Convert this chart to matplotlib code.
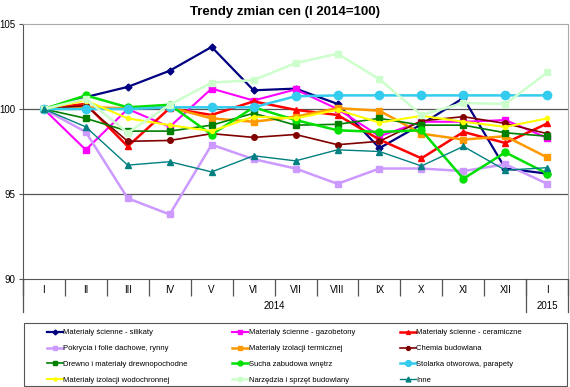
import matplotlib.pyplot as plt
import matplotlib.transforms as mtransforms
from matplotlib.patches import Rectangle

months = ['I', 'II', 'III', 'IV', 'V', 'VI', 'VII', 'VIII', 'IX', 'X', 'XI', 'XII', 'I']

silikaty = [100, 100.7, 101.3, 102.25, 103.65, 101.1, 101.2, 100.3, 97.7, 99.1, 100.65, 96.5, 96.2]
gazobetony = [100, 97.6, 100.0, 98.95, 101.2, 100.5, 101.15, 100.0, 98.4, 99.25, 99.25, 99.35, 98.3]
ceramiczne = [100, 100.3, 97.8, 100.05, 99.65, 100.45, 99.95, 99.65, 98.2, 97.1, 98.65, 98.0, 99.15]
pokrycia = [100, 98.65, 94.75, 93.8, 97.9, 97.05, 96.5, 95.6, 96.5, 96.5, 96.35, 96.75, 95.6]
izol_term = [100, 100.1, 100.05, 100.1, 99.45, 99.25, 99.55, 100.05, 99.9, 98.55, 98.2, 98.4, 97.15]
chemia = [100, 100.2, 98.1, 98.15, 98.55, 98.33, 98.5, 97.9, 98.1, 99.3, 99.55, 99.15, 98.55]
drewno = [100, 99.45, 98.7, 98.7, 99.05, 99.75, 99.05, 99.1, 99.45, 99.05, 99.05, 98.6, 98.4]
sucha = [100, 100.8, 100.1, 100.25, 98.5, 100.1, 99.35, 98.75, 98.65, 98.75, 95.9, 97.45, 96.2]
stolarka = [100, 100.0, 100.0, 100.1, 100.1, 100.1, 100.75, 100.8, 100.8, 100.8, 100.8, 100.8, 100.8]
wodochr = [100, 100.5, 99.45, 99.05, 98.7, 99.55, 99.45, 99.95, 99.2, 99.6, 99.25, 98.95, 99.45]
narzedzia = [100, 100.6, 98.6, 100.25, 101.55, 101.7, 102.7, 103.25, 101.75, 99.65, 100.35, 100.3, 102.15]
inne = [100, 98.95, 96.7, 96.9, 96.3, 97.25, 96.95, 97.6, 97.5, 96.65, 97.8, 96.4, 96.55]

series = [
    ('Materiały ścienne - silikaty', silikaty, '#000080', 'D', 1.6, 3.5),
    ('Materiały ścienne - gazobetony', gazobetony, '#FF00FF', 's', 1.5, 4),
    ('Materiały ścienne - ceramiczne', ceramiczne, '#FF0000', '^', 1.8, 4),
    ('Pokrycia i folie dachowe, rynny', pokrycia, '#CC99FF', 's', 1.8, 4.5),
    ('Materiały izolacji termicznej', izol_term, '#FF9900', 's', 1.8, 5),
    ('Chemia budowlana', chemia, '#800000', 'o', 1.2, 4),
    ('Drewno i materiały drewnopochodne', drewno, '#008000', 's', 1.2, 4),
    ('Sucha zabudowa wnętrz', sucha, '#00E000', 'o', 1.8, 5),
    ('Stolarka otworowa, parapety', stolarka, '#33CCEE', 'o', 1.8, 6),
    ('Materiały izolacji wodochronnej', wodochr, '#FFFF00', 'o', 1.5, 3),
    ('Narzędzia i sprzęt budowlany', narzedzia, '#CCFFCC', 's', 1.8, 5),
    ('Inne', inne, '#008080', '^', 1.0, 5),
]

plt.rcParams['font.family'] = ['Liberation Sans', 'DejaVu Sans']

fig = plt.figure(figsize=(5.7, 3.87), dpi=100)
ax = fig.add_axes([0.040, 0.279, 0.957, 0.659])

x = list(range(len(months)))
handles = {}
for name, vals, color, marker, lw, ms in series:
    h, = ax.plot(x, vals, color=color, marker=marker, linewidth=lw, markersize=ms,
                 markeredgecolor=color, label=name)
    handles[name] = h

ax.set_xlim(-0.5, 12.5)
ax.set_ylim(90, 105)
ax.set_yticks([90, 95, 100, 105])
ax.tick_params(axis='y', labelsize=7, length=3, color='#555555', pad=2)
for v in (95, 100):
    ax.axhline(v, color='#555555', linewidth=0.9, zorder=0)

# category axis: labels in the middle, separators between
ax.set_xticks(x)
ax.set_xticklabels(months, fontsize=7)
ax.tick_params(axis='x', length=0, pad=4)
ax.set_xticks([i - 0.5 for i in range(len(months) + 1)], minor=True)
ax.tick_params(axis='x', which='minor', length=12, color='#555555', width=0.9)

for side in ('top', 'right'):
    ax.spines[side].set_color('#AAAAAA')
for side in ('left', 'bottom'):
    ax.spines[side].set_color('#555555')

trans = mtransforms.blended_transform_factory(ax.transData, ax.transAxes)
for b in (-0.5, 11.5, 12.5):
    ax.plot([b, b], [0, -0.13], color='#555555', linewidth=0.9, transform=trans, clip_on=False)
ax.text(5.5, -0.106, '2014', transform=trans, ha='center', va='center', fontsize=7)
ax.text(12, -0.106, '2015', transform=trans, ha='center', va='center', fontsize=7)

fig.suptitle('Trendy zmian cen (I 2014=100)', fontsize=9.5, fontweight='bold', y=0.985)

# legend rows as in the original, matplotlib fills columns first
order = [0, 3, 6, 9, 1, 4, 7, 10, 2, 5, 8, 11]
leg_h = [handles[series[i][0]] for i in order]
leg_l = [series[i][0] for i in order]
fig.legend(leg_h, leg_l, ncol=3, loc='center left', bbox_to_anchor=(0.075, 0.079),
           fontsize=5.5, frameon=False, handlelength=2.1, handletextpad=0.1,
           columnspacing=5.8, labelspacing=1.1, markerscale=0.7, borderpad=0)
fig.add_artist(Rectangle((0.042, 0.003), 0.953, 0.162, transform=fig.transFigure,
                         fill=False, edgecolor='#555555', linewidth=0.8))

fig.savefig('out.png', dpi=100)
